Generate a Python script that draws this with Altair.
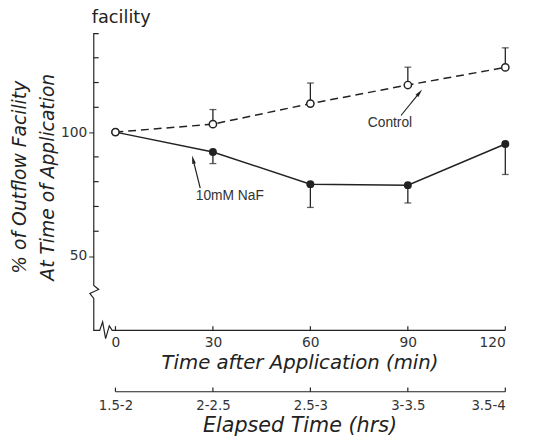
import altair as alt
import pandas as pd

# ---- data ----
minutes = [0, 30, 60, 90, 120]
control_mean = [100, 103.2, 111.5, 119.0, 126.1]
control_sem = [0, 5.9, 8.3, 7.2, 7.9]
naf_mean = [100, 92.0, 79.0, 78.6, 95.2]
naf_sem = [0, 4.7, 9.4, 7.2, 12.3]
elapsed_labels = ["1.5-2", "2-2.5", "2.5-3", "3-3.5", "3.5-4"]
y_major = [50, 100]
y_minor = [60, 70, 80, 90, 110, 120, 130]

# axis frame with break marks (data units)
yframe_x = [-5.15, -6.67, -6.67, -5.15, -7.88, -6.67, -6.67, -4.85, -3.94, -3.03, -1.9, -1.0, 120]
yframe_y = [139.7, 139.7, 38.1, 36.5, 34.9, 32.9, 20, 20, 23.4, 16.7, 21.8, 20, 20]

# annotations
ann_text = ["Control", "10mM NaF"]
ann_x = [84.5, 35.2]
ann_y = [103.6, 74.2]
arrow_x1 = [87.9, 26.1]
arrow_y1 = [106.7, 77.4]
arrow_x2 = [93.6, 23.9]
arrow_y2 = [115.9, 88.9]
arrow_angle = [39, 346]

INK = "#222222"
X = alt.Scale(domain=[-6.7, 120], nice=False, zero=False)
Y = alt.Scale(domain=[20, 140], nice=False, zero=False)

df = pd.DataFrame({
    "minutes": minutes,
    "control": control_mean,
    "control_hi": [m + s for m, s in zip(control_mean, control_sem)],
    "naf": naf_mean,
    "naf_lo": [m - s for m, s in zip(naf_mean, naf_sem)],
})
err_df = df[df["minutes"] > 0]

base = alt.Chart(df)


def xq(f):
    return alt.X(f, scale=X, axis=None)


def yq(f):
    return alt.Y(f, scale=Y, axis=None)


control_line = base.mark_line(color=INK, strokeWidth=1.5, strokeDash=[8, 5]).encode(
    x=xq("minutes:Q"), y=yq("control:Q"))
naf_line = base.mark_line(color=INK, strokeWidth=1.5).encode(x=xq("minutes:Q"), y=yq("naf:Q"))

ebase = alt.Chart(err_df)
c_err = ebase.mark_rule(color=INK, strokeWidth=1.3).encode(
    x=xq("minutes:Q"), y=yq("control:Q"), y2="control_hi:Q")
c_cap = ebase.mark_tick(color=INK, orient="horizontal", size=7, thickness=1.3).encode(
    x=xq("minutes:Q"), y=yq("control_hi:Q"))
n_err = ebase.mark_rule(color=INK, strokeWidth=1.3).encode(
    x=xq("minutes:Q"), y=yq("naf:Q"), y2="naf_lo:Q")
n_cap = ebase.mark_tick(color=INK, orient="horizontal", size=7, thickness=1.3).encode(
    x=xq("minutes:Q"), y=yq("naf_lo:Q"))

n_pts = base.mark_point(filled=True, color=INK, size=65, opacity=1).encode(
    x=xq("minutes:Q"), y=yq("naf:Q"))
c_pts = base.mark_point(filled=True, fill="white", stroke=INK, strokeWidth=1.5, size=55, opacity=1).encode(
    x=xq("minutes:Q"), y=yq("control:Q"))

# frame (axis lines with breaks)
frame_df = pd.DataFrame({"x": yframe_x, "y": yframe_y, "o": list(range(len(yframe_x)))})
frame = alt.Chart(frame_df).mark_line(color=INK, strokeWidth=1.2).encode(
    x=xq("x:Q"), y=yq("y:Q"), order="o:Q")

minor_df = pd.DataFrame({"v": y_minor})
y_minor_ticks = alt.Chart(minor_df).mark_rule(color=INK, strokeWidth=1.2).encode(
    y=yq("v:Q"), x=xq("a:Q"), x2="b:Q").transform_calculate(a="-6.67", b="-5.15")

xt_df = pd.DataFrame({"m": minutes})
x_ticks = alt.Chart(xt_df).mark_rule(color=INK, strokeWidth=1.2).encode(
    x=xq("m:Q"), y=yq("a:Q"), y2="b:Q").transform_calculate(a="20", b="21.7")

# second (elapsed time) axis line and ticks
x2_line = alt.Chart(pd.DataFrame({"a": [minutes[0]], "b": [minutes[-1]]})).mark_rule(
    color=INK, strokeWidth=1.2).encode(
    x=xq("a:Q"), x2="b:Q", y=yq("c:Q")).transform_calculate(c="-4.76")
x2_ticks = alt.Chart(xt_df).mark_rule(color=INK, strokeWidth=1.2).encode(
    x=xq("m:Q"), y=yq("a:Q"), y2="b:Q").transform_calculate(a="-4.76", b="-3.1")

ann_df = pd.DataFrame({"t": ann_text, "x": ann_x, "y": ann_y,
                       "x1": arrow_x1, "y1": arrow_y1, "x2": arrow_x2, "y2": arrow_y2,
                       "ang": arrow_angle})
ann = alt.Chart(ann_df).mark_text(font="Liberation Sans", fontSize=14, color="#333333").encode(
    x=xq("x:Q"), y=yq("y:Q"), text="t:N")
arrows = alt.Chart(ann_df).mark_rule(color=INK, strokeWidth=1.2).encode(
    x=xq("x1:Q"), y=yq("y1:Q"), x2="x2:Q", y2="y2:Q")
heads = alt.Chart(ann_df).mark_point(shape="M0,-1L0.45,1L-0.45,1Z", filled=True, color=INK,
                                     size=70, opacity=1).encode(
    x=xq("x2:Q"), y=yq("y2:Q"), angle=alt.Angle("ang:Q", scale=None))

marks = alt.layer(frame, y_minor_ticks, x_ticks, x2_line, x2_ticks,
                  control_line, naf_line, c_err, c_cap, n_err, n_cap, n_pts, c_pts,
                  arrows, heads, ann)

# main axes (invisible carrier layer)
axes_main = base.mark_point(opacity=0).encode(
    x=alt.X("minutes:Q", scale=X,
            axis=alt.Axis(orient="bottom", values=minutes, domain=False, ticks=False,
                          labelPadding=5, title="Time after Application (min)", titlePadding=4)),
    y=alt.Y("control:Q", scale=Y,
            axis=alt.Axis(orient="left", values=y_major, domain=False, tickSize=5, tickColor=INK,
                          labelPadding=2,
                          title=["% of Outflow Facility", "At Time of Application"],
                          titleX=-75, titleY=146, titleAngle=270, titleAlign="center",
                          titleBaseline="middle", titleLineHeight=28, titleFontSize=19)),
)

expr = "''"
for m, lab in reversed(list(zip(minutes, elapsed_labels))):
    expr = f"datum.value == {m} ? '{lab}' : ({expr})"

axes_second = base.mark_point(opacity=0).encode(
    x=alt.X("minutes:Q", scale=X,
            axis=alt.Axis(orient="bottom", offset=62, values=minutes, labelExpr=expr,
                          domain=False, ticks=False, labelPadding=7, labelFontSize=13.5,
                          title="Elapsed Time (hrs)", titlePadding=3, titleFontSize=21)),
    y=alt.Y("naf:Q", scale=Y, axis=None),
)

chart = alt.layer(marks, axes_main, axes_second).resolve_scale(
    x="independent", y="independent").properties(
    width=418, height=302,
    padding={"left": 87, "top": 22, "right": 20, "bottom": 110},
    autosize=alt.AutoSizeParams(type="none"),
    title=alt.Title("facility", anchor="start", frame="group", fontSize=18, font="DejaVu Sans",
                    fontWeight="normal", color=INK, offset=4, dx=-2),
).configure_axis(
    labelFont="DejaVu Sans", labelFontSize=14, labelColor="#333333",
    titleFont="DejaVu Sans", titleFontStyle="italic", titleFontSize=20,
    titleFontWeight="normal", titleColor=INK, grid=False,
).configure_view(stroke=None)

chart.save("out.html", embed_options={"renderer": "svg", "actions": False})
